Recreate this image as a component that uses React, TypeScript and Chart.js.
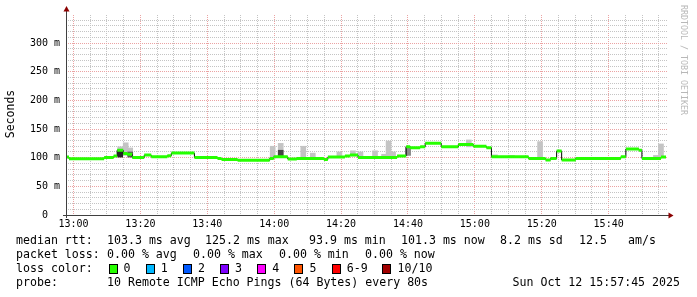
import React, { useEffect, useRef } from 'react';
import { Chart, registerables } from 'chart.js';

Chart.register(...registerables);

// Time axis: minutes after 13:00 (graph spans 12:57:45 .. 15:57:45)
const timeStart = -2.25;
const timeEnd = 177.75;

// Median RTT (ms), step function: value holds from stepStart[i] to stepStart[i+1]
const stepStart = [
  -2.25, -1.35, 9.15, 12.0, 13.05, 14.85, 16.05, 17.55, 21.15, 23.25,
  28.05, 29.25, 36.15, 43.05, 44.25, 49.05, 58.65, 59.85, 64.05, 66.75,
  74.85, 76.05, 81.15, 82.65, 85.05, 96.75, 99.45, 100.65, 103.65, 105.15,
  109.95, 115.05, 119.55, 123.45, 124.95, 136.05, 141.15, 142.65, 144.45, 145.95,
  150.15, 163.65, 165.15, 169.05, 169.95, 175.65,
];
const stepEnd = 177.15;
const medianMs = [
  101, 98, 100.5, 103, 113, 107.5, 106, 100.5, 104.5, 101.5,
  103.5, 108, 100.5, 98.8, 97, 95.4, 98.8, 101.5, 97.7, 98.8,
  97, 101, 103, 104.5, 100.5, 103, 119, 117.5, 119, 125,
  119, 123, 120, 117.5, 101.5, 98.8, 96, 98.8, 111.5, 96,
  98.8, 101.5, 115, 113, 98.8, 101,
];

// Smoke (spread of the pings), light layer
const smokeTime = [13.95, 15.6, 16.95, 59.55, 61.95, 68.7, 71.55, 79.5, 83.55, 85.8, 90.15, 92.85, 94.2, 95.55, 118.2, 126, 131.1, 139.5, 174.15, 175.65];
const smokeLow = [104, 104, 104, 99, 100, 98, 98, 100, 103, 100, 100, 100, 100, 100, 119, 101, 101, 98, 99, 101];
const smokeHigh = [119, 126, 117, 120, 125, 120, 108, 110, 112, 110, 112, 106, 129, 110, 131, 105, 104, 128, 104, 124];

// Smoke, dark (inner) layer
const darkSmokeTime = [13.95, 16.95, 61.95, 100.05];
const darkSmokeLow = [101, 101, 101, 104];
const darkSmokeHigh = [113, 110, 113, 119];
const darkSmokeColors = ['#262626', '#5a5a5a', '#444444', '#8a8a8a'];

// Tick definitions
const xTickStep = 5;
const xTickMax = 175;
const xLabelEvery = 20;
const yTickStep = 10;
const yTickMax = 340;
const yLabelEvery = 50;
const yMax = 349;

// Legend texts
const rttStatValues = ['103.3', '125.2', '93.9', '101.3', '8.2'];
const rttStatNames = ['avg', 'max', 'min', 'now', 'sd'];
const amPerSecond = '12.5';
const lossStatValues = ['0.00', '0.00', '0.00', '0.00'];
const lossStatNames = ['avg', 'max', 'min', 'now'];
const lossLabels = ['0', '1', '2', '3', '4', '5', '6-9', '10/10'];
const lossColors = ['#26ff00', '#00b8ff', '#0059ff', '#7e00ff', '#ff00ff', '#ff5500', '#ff0000', '#a10000'];
const probeText = '10 Remote ICMP Echo Pings (64 Bytes) every 80s';
const dateText = 'Sun Oct 12 15:57:45 2025';
const yTitle = 'Seconds';
const sideText = 'RRDTOOL / TOBI OETIKER';

const MONO = '"DejaVu Sans Mono", monospace';

function clockLabel(v: number): string {
  const total = 13 * 60 + v;
  const h = Math.floor(total / 60);
  const m = Math.round(total % 60);
  return `${h}:${String(m).padStart(2, '0')}`;
}

const bgPlugin = {
  id: 'bg',
  beforeDraw(chart: any) {
    const ctx = chart.ctx;
    ctx.save();
    ctx.fillStyle = '#ffffff';
    ctx.fillRect(0, 0, chart.width, chart.height);
    ctx.restore();
  },
};

const decorPlugin = {
  id: 'decor',
  afterDraw(chart: any) {
    const ctx = chart.ctx;
    const a = chart.chartArea;
    ctx.save();
    // axes
    ctx.strokeStyle = '#404040';
    ctx.lineWidth = 1;
    ctx.beginPath();
    ctx.moveTo(a.left + 0.5, a.top - 5);
    ctx.lineTo(a.left + 0.5, a.bottom + 3);
    ctx.moveTo(a.left - 3, a.bottom + 0.5);
    ctx.lineTo(a.right + 1, a.bottom + 0.5);
    ctx.stroke();
    // arrows
    ctx.fillStyle = '#8b0000';
    ctx.beginPath();
    ctx.moveTo(a.left + 0.5, a.top - 9);
    ctx.lineTo(a.left - 2.5, a.top - 3.5);
    ctx.lineTo(a.left + 3.5, a.top - 3.5);
    ctx.closePath();
    ctx.fill();
    ctx.beginPath();
    ctx.moveTo(a.right + 5.5, a.bottom + 0.5);
    ctx.lineTo(a.right + 0.5, a.bottom - 2.5);
    ctx.lineTo(a.right + 0.5, a.bottom + 3.5);
    ctx.closePath();
    ctx.fill();

    // y title
    ctx.fillStyle = '#000';
    ctx.font = `11.5px ${MONO}`;
    ctx.textAlign = 'center';
    ctx.textBaseline = 'middle';
    ctx.save();
    ctx.translate(11, 114);
    ctx.rotate(-Math.PI / 2);
    ctx.fillText(yTitle, 0, 0);
    ctx.restore();

    // side text
    ctx.save();
    ctx.fillStyle = '#b8b8b8';
    ctx.font = `8.3px ${MONO}`;
    ctx.textAlign = 'left';
    ctx.translate(683, 5);
    ctx.rotate(Math.PI / 2);
    ctx.fillText(sideText, 0, 0);
    ctx.restore();

    // legend
    ctx.fillStyle = '#000';
    ctx.font = `11.6px ${MONO}`;
    ctx.textAlign = 'left';
    ctx.textBaseline = 'middle';
    const y1 = 241, y2 = 255, y3 = 269, y4 = 283;
    ctx.fillText('median rtt:', 16, y1);
    const rttX = [107, 205, 309, 401, 500];
    rttStatValues.forEach((v, i) => ctx.fillText(`${v} ms ${rttStatNames[i]}`, rttX[i], y1));
    ctx.fillText(amPerSecond, 579, y1);
    ctx.fillText('am/s', 628, y1);

    ctx.fillText('packet loss:', 16, y2);
    const lossX = [107, 193, 279, 365];
    lossStatValues.forEach((v, i) => ctx.fillText(`${v} % ${lossStatNames[i]}`, lossX[i], y2));

    ctx.fillText('loss color:', 16, y3);
    let cx = 108.5;
    lossLabels.forEach((lab, i) => {
      ctx.fillStyle = lossColors[i];
      ctx.fillRect(Math.round(cx), y3 - 5, 8, 9);
      ctx.strokeStyle = '#000';
      ctx.strokeRect(Math.round(cx) + 0.5, y3 - 5 + 0.5, 8, 9);
      ctx.fillStyle = '#000';
      ctx.fillText(lab, cx + 15, y3);
      cx += 30.4 + lab.length * 6.8;
    });

    ctx.fillText('probe:', 16, y4);
    ctx.fillText(probeText, 107, y4);
    ctx.textAlign = 'right';
    ctx.fillText(dateText, 680, y4);
    ctx.restore();
  },
};

export default function App() {
  const ref = useRef<HTMLCanvasElement>(null);

  useEffect(() => {
    const canvas = ref.current;
    if (!canvas) return;

    const blackData: any[] = stepStart.map((t, i) => ({ x: t, y: medianMs[i] }));
    blackData.push({ x: stepEnd, y: medianMs[medianMs.length - 1] });

    const greenData: any[] = [];
    stepStart.forEach((t, i) => {
      const end = i + 1 < stepStart.length ? stepStart[i + 1] : stepEnd;
      greenData.push({ x: t, y: medianMs[i] });
      greenData.push({ x: end, y: medianMs[i] });
      greenData.push({ x: end, y: null });
    });

    const light = smokeTime.map((t, i) => ({ x: t, y: [smokeLow[i], smokeHigh[i]] }));
    const dark = darkSmokeTime.map((t, i) => ({ x: t, y: [darkSmokeLow[i], darkSmokeHigh[i]] }));

    const minorGrid = '#c4c4c4';
    const majorGrid = '#eba3a3';

    const chart = new Chart(canvas, {
      type: 'line',
      data: {
        datasets: [
          {
            type: 'line',
            data: greenData,
            borderColor: '#26ff00',
            borderWidth: 3,
            borderCapStyle: 'butt',
            pointRadius: 0,
            spanGaps: false,
            order: 0,
          } as any,
          {
            type: 'line',
            data: blackData,
            borderColor: '#000000',
            borderWidth: 1,
            stepped: true,
            pointRadius: 0,
            order: 1,
          } as any,
          {
            type: 'bar',
            data: dark,
            backgroundColor: darkSmokeColors,
            borderWidth: 0,
            barThickness: 5,
            grouped: false,
            order: 2,
          } as any,
          {
            type: 'bar',
            data: light,
            backgroundColor: '#c4c4c4',
            borderWidth: 0,
            barThickness: 5,
            grouped: false,
            order: 3,
          } as any,
        ],
      },
      options: {
        responsive: false,
        devicePixelRatio: 1,
        animation: false,
        events: [],
        layout: { padding: { left: 0, right: 29, top: 15, bottom: 62 } },
        plugins: { legend: { display: false }, tooltip: { enabled: false } },
        scales: {
          x: {
            type: 'linear',
            min: timeStart,
            max: timeEnd,
            offset: false,
            grid: {
              offset: false,
              drawTicks: false,
              lineWidth: 1,
              color: (c: any) => (c.tick && c.tick.value % xLabelEvery === 0 ? majorGrid : minorGrid),
            },
            border: { display: false, dash: [1, 1] },
            afterBuildTicks: (scale: any) => {
              const t = [];
              for (let v = 0; v <= xTickMax; v += xTickStep) t.push({ value: v });
              scale.ticks = t;
            },
            afterFit: (scale: any) => {
              scale.height = 20;
            },
            ticks: {
              autoSkip: false,
              maxRotation: 0,
              minRotation: 0,
              padding: 3,
              color: '#000',
              font: { family: MONO, size: 10 },
              callback: (v: any) => (Number(v) % xLabelEvery === 0 ? clockLabel(Number(v)) : ''),
            },
          },
          y: {
            type: 'linear',
            min: 0,
            max: yMax,
            grid: {
              drawTicks: false,
              lineWidth: 1,
              color: (c: any) => (c.tick && c.tick.value % yLabelEvery === 0 ? majorGrid : minorGrid),
            },
            border: { display: false, dash: [1, 1] },
            afterBuildTicks: (scale: any) => {
              const t = [];
              for (let v = 0; v <= yTickMax; v += yTickStep) t.push({ value: v });
              scale.ticks = t;
            },
            afterFit: (scale: any) => {
              scale.width = 66;
            },
            ticks: {
              autoSkip: false,
              padding: 6,
              color: '#000',
              font: { family: MONO, size: 10 },
              callback: (v: any) => {
                const n = Number(v);
                if (n % yLabelEvery !== 0) return '';
                return n === 0 ? '0  ' : `${n} m`;
              },
            },
          },
        },
      },
      plugins: [bgPlugin, decorPlugin],
    } as any);

    return () => chart.destroy();
  }, []);

  return (
    <canvas
      ref={ref}
      width={697}
      height={297}
      style={{ position: 'fixed', left: 0, top: 0, width: 697, height: 297 }}
    />
  );
}
